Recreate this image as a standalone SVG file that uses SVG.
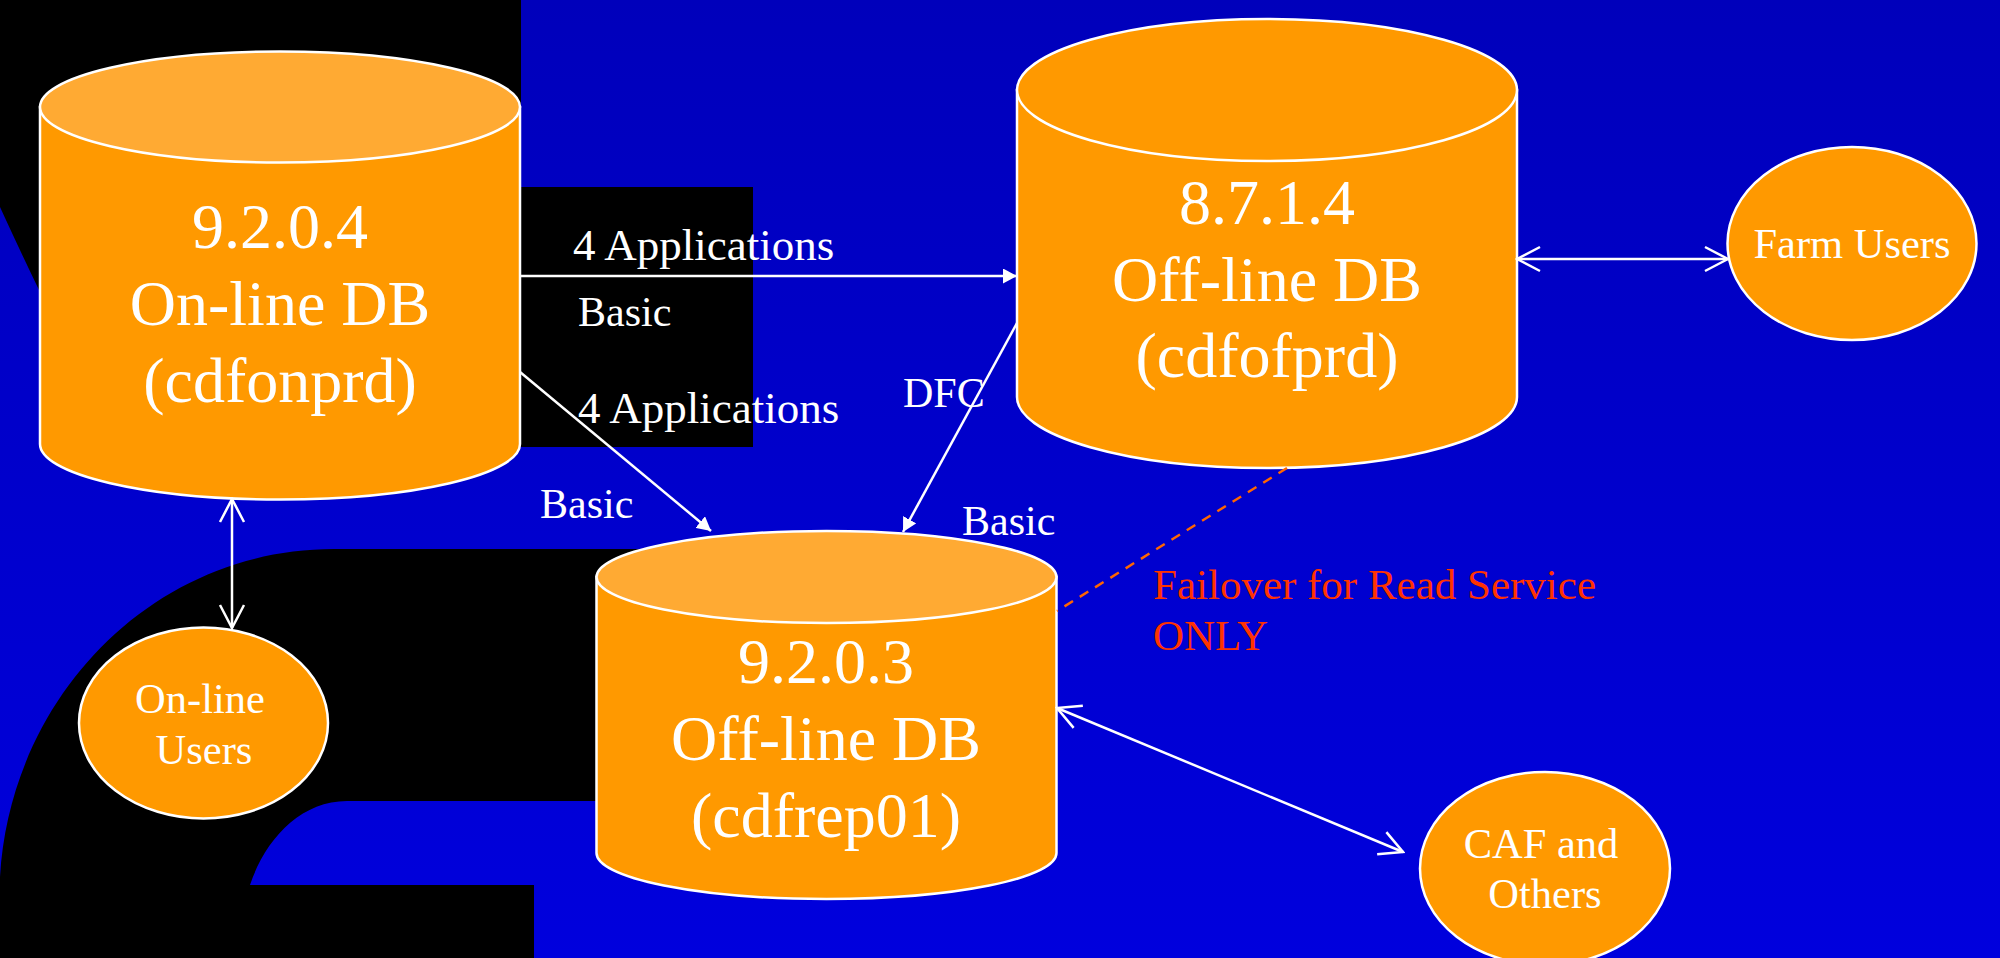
<svg xmlns="http://www.w3.org/2000/svg" width="2000" height="958" viewBox="0 0 2000 958">
<defs>
<linearGradient id="bg" x1="0" y1="0" x2="0" y2="1">
<stop offset="0" stop-color="#0000BB"/>
<stop offset="1" stop-color="#0000DD"/>
</linearGradient>
<marker id="fillArrow" viewBox="0 0 14 15" refX="14" refY="7.5" markerWidth="14" markerHeight="15" markerUnits="userSpaceOnUse" orient="auto"><path d="M0,0 L14,7.5 L0,15 Z" fill="#FFFFFF"/></marker>
<marker id="openArrow" viewBox="0 0 26 28" refX="24" refY="14" markerWidth="26" markerHeight="28" markerUnits="userSpaceOnUse" orient="auto-start-reverse"><path d="M1,2 L24,14 L1,26" fill="none" stroke="#FFFFFF" stroke-width="2.5"/></marker>
<style>
.body{fill:#FF9900;stroke:#FFFFFF;stroke-width:2.5}
.top{fill:#FFAA33;stroke:#FFFFFF;stroke-width:2.5}
.ell{fill:#FF9900;stroke:#FFFFFF;stroke-width:2.5}
.big{font-family:"Liberation Serif","Times New Roman",serif;font-size:64px;fill:#FFFFFF;text-anchor:middle}
.mid{font-family:"Liberation Serif","Times New Roman",serif;font-size:42.5px;fill:#FFFFFF;text-anchor:middle}
.lbl{font-family:"Liberation Serif","Times New Roman",serif;font-size:42px;fill:#FFFFFF}
.app{font-family:"Liberation Serif","Times New Roman",serif;font-size:45px;fill:#FFFFFF}
.red{font-family:"Liberation Serif","Times New Roman",serif;font-size:43px;fill:#FF3300}
.conn{stroke:#FFFFFF;stroke-width:2.5;fill:none}
</style>
</defs>
<rect x="0" y="0" width="2000" height="958" fill="url(#bg)"/>
<g id="background-logo" fill="#000000">
<path d="M0,0 H521 V187 H753 V447 H521 V444 H40 V292 Q22,255 0,207 Z"/>
<path d="M0,958 V877 C10,700 150,549 334,549 H700 V801 H347 C300,801 265,840 250,885 H534 V958 Z"/>
</g>
<g id="db-online">
<path class="body" d="M40,107 V444 A240,55.5 0 0 0 520,444 V107 Z"/>
<ellipse class="top" cx="280" cy="107" rx="240" ry="55.5"/>
<text class="big" x="280" y="248">9.2.0.4</text>
<text class="big" x="280" y="325">On-line DB</text>
<text class="big" x="280" y="402">(cdfonprd)</text>
</g>
<g id="db-offline-8714">
<path class="body" d="M1017,90 V397 A250,71 0 0 0 1517,397 V90 Z"/>
<ellipse class="top" cx="1267" cy="90" rx="250" ry="71" style="fill:#FF9900"/>
<text class="big" x="1267" y="224">8.7.1.4</text>
<text class="big" x="1267" y="301">Off-line DB</text>
<text class="big" x="1267" y="377">(cdfofprd)</text>
</g>
<g id="db-offline-9203">
<path class="body" d="M596.5,577 V853 A230,46 0 0 0 1056.5,853 V577 Z"/>
<ellipse class="top" cx="826.5" cy="577" rx="230" ry="46"/>
<text class="big" x="826" y="683">9.2.0.3</text>
<text class="big" x="826" y="760">Off-line DB</text>
<text class="big" x="826" y="837">(cdfrep01)</text>
</g>
<g id="farm-users">
<ellipse class="ell" cx="1852" cy="243.5" rx="124.5" ry="96.5"/>
<text class="mid" x="1852" y="258">Farm Users</text>
</g>
<g id="online-users">
<ellipse class="ell" cx="203.5" cy="723" rx="124.5" ry="95.5"/>
<text class="mid" x="200" y="713">On-line</text>
<text class="mid" x="204" y="764">Users</text>
</g>
<g id="caf-others">
<ellipse class="ell" cx="1545" cy="868.5" rx="125" ry="96.5"/>
<text class="mid" x="1541" y="858">CAF and</text>
<text class="mid" x="1545" y="908">Others</text>
</g>
<g id="connectors">
<line class="conn" x1="520" y1="276" x2="1017" y2="276" marker-end="url(#fillArrow)"/>
<line class="conn" x1="520" y1="372" x2="711" y2="531" marker-end="url(#fillArrow)"/>
<line class="conn" x1="1017" y1="323" x2="903" y2="532" marker-end="url(#fillArrow)"/>
<line class="conn" x1="1517" y1="259" x2="1728" y2="259" marker-start="url(#openArrow)" marker-end="url(#openArrow)"/>
<line class="conn" x1="232" y1="499" x2="232" y2="628" marker-start="url(#openArrow)" marker-end="url(#openArrow)"/>
<line class="conn" x1="1057" y1="708" x2="1403" y2="852" marker-start="url(#openArrow)" marker-end="url(#openArrow)"/>
<line x1="1287" y1="468" x2="1057" y2="611" stroke="#FF6600" stroke-width="2.5" stroke-dasharray="10,8"/>
<text class="app" x="573" y="260">4 Applications</text>
<text class="lbl" x="578" y="326">Basic</text>
<text class="app" x="578" y="423">4 Applications</text>
<text class="lbl" x="540" y="518">Basic</text>
<text class="lbl" x="903" y="407">DFC</text>
<text class="lbl" x="962" y="535">Basic</text>
<text class="red" x="1153" y="599">Failover for Read Service</text>
<text class="red" x="1153" y="650">ONLY</text>
</g>
</svg>
